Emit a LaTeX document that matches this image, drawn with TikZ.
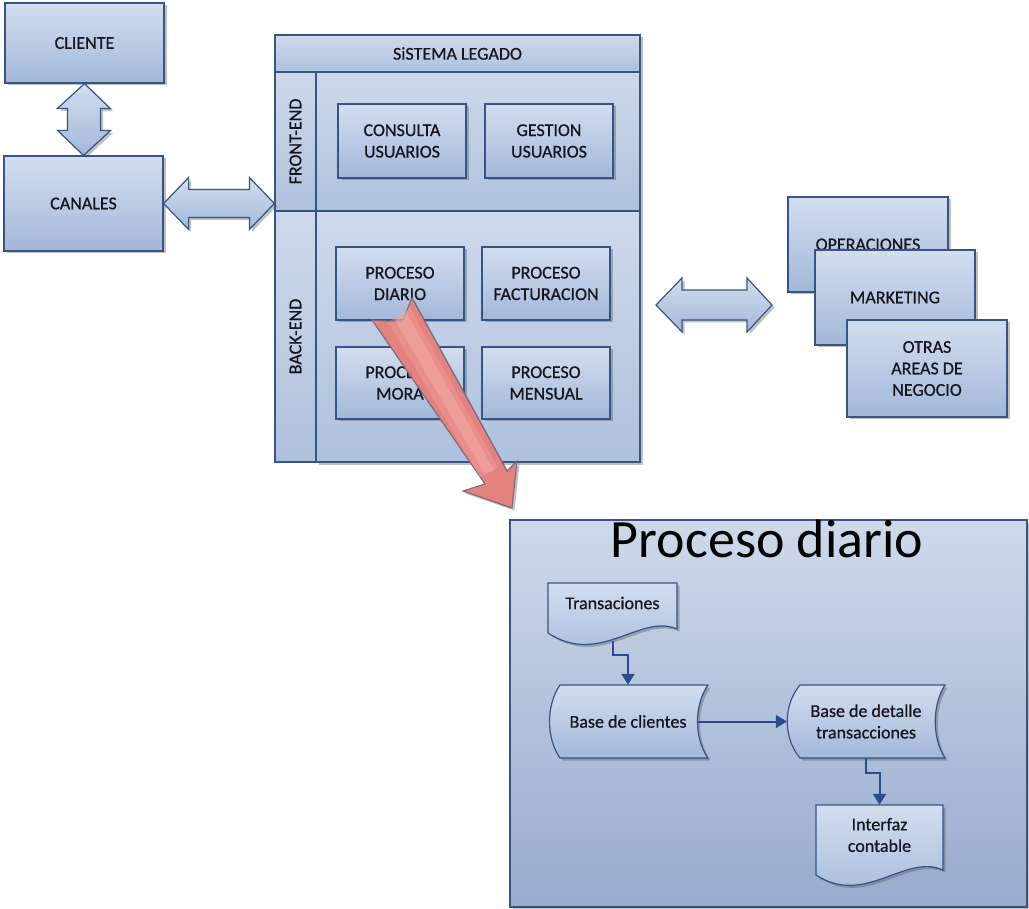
\documentclass[tikz,border=0pt]{standalone}
\usepackage{fontspec}
\setmainfont{Carlito}
\newfontfamily\lblfont{Carlito}[FakeBold=0.7]
\usetikzlibrary{arrows.meta,calc,shadows}

\definecolor{boxtop}{RGB}{210,222,239}
\definecolor{boxbot}{RGB}{162,184,217}
\definecolor{boxline}{RGB}{55,85,132}
\definecolor{paneltop}{RGB}{206,218,235}
\definecolor{panelbot}{RGB}{174,193,221}
\definecolor{bigtop}{RGB}{206,217,234}
\definecolor{bigbot}{RGB}{150,171,206}
\definecolor{flowline}{RGB}{38,78,140}
\definecolor{redfill}{RGB}{228,130,126}
\definecolor{redlight}{RGB}{243,170,165}
\definecolor{redline}{RGB}{120,105,128}
\definecolor{ink}{RGB}{22,22,30}

\begin{document}
\begin{tikzpicture}[x=1pt,y=-1pt,
  lbl/.style={font=\lblfont\fontsize{18}{21.5}\selectfont, text=ink, align=center},
  shadowed/.style={drop shadow={shadow xshift=2.5pt,shadow yshift=-2.5pt,opacity=.35,fill=black!70}},
  box/.style={lbl, draw=boxline, line width=1.2pt, top color=boxtop, bottom color=boxbot, shadowed, inner sep=0pt},
  panel/.style={draw=boxline, line width=1.2pt, top color=paneltop, bottom color=panelbot, inner sep=0pt},
  blockarrow/.style={draw=boxline, line width=1.2pt, top color=boxtop, bottom color=boxbot, shadowed, line join=miter},
  flowshape/.style={draw=boxline, line width=1.2pt, top color=boxtop, bottom color=boxbot, shadowed},
  flow/.style={draw=flowline, line width=2pt, -{Triangle[width=13pt,length=11pt]}},
  txt/.style={lbl, inner sep=0pt},
]
% canvas
\fill[white] (0,0) rectangle (1029,909);

% ---------- left column ----------
\node[box, minimum width=159pt, minimum height=80pt] (cliente) at (84.5,43) {CLIENTE};
\node[box, minimum width=159pt, minimum height=95pt] (canales) at (83.5,203.5) {CANALES};

% ---------- legacy system ----------
\node[panel, shadowed, minimum width=365pt, minimum height=37pt, lbl] (titulo) at (457.5,53.5) {SiSTEMA LEGADO};
\node[panel, shadowed, minimum width=324pt, minimum height=139pt] (fpanel) at (478,141.5) {};
\node[panel, shadowed, minimum width=324pt, minimum height=251pt] (bpanel) at (478,336.5) {};
\node[panel, minimum width=41pt, minimum height=139pt] (fside) at (295.5,141.5) {};
\node[panel, minimum width=41pt, minimum height=251pt] (bside) at (295.5,336.5) {};
\node[txt, rotate=90] at (fside.center) {FRONT-END};
\node[txt, rotate=90] at (bside.center) {BACK-END};

\node[box, minimum width=128pt, minimum height=74pt] (consulta) at (402,141) {CONSULTA\\USUARIOS};
\node[box, minimum width=128pt, minimum height=74pt] (gestion) at (549,141) {GESTION\\USUARIOS};
\node[box, minimum width=128pt, minimum height=73pt] (diario) at (400,283.5) {PROCESO\\DIARIO};
\node[box, minimum width=128pt, minimum height=73pt] (factura) at (546,283.5) {PROCESO\\FACTURACION};
\node[box, minimum width=128pt, minimum height=72pt] (mora) at (400,383) {PROCESO\\MORA};
\node[box, minimum width=128pt, minimum height=72pt] (mensual) at (546,383) {PROCESO\\MENSUAL};

% ---------- business areas ----------
\node[box, minimum width=160pt, minimum height=95pt] (operaciones) at (868,244.5) {OPERACIONES};
\node[box, minimum width=160pt, minimum height=95pt] (marketing) at (895,297.5) {MARKETING};
\node[box, minimum width=160pt, minimum height=97pt] (otras) at (927,368.5) {OTRAS\\AREAS DE\\NEGOCIO};

% ---------- double block arrows ----------
% CLIENTE <-> CANALES
\draw[blockarrow] (cliente.south) -- ++(26,25) -- ++(-10,0) -- ++(0,22)
  -- ++(10,0) -- (canales.north) -- ++(-26,-25) -- ++(10,0) -- ++(0,-22)
  -- ++(-10,0) -- cycle;
% CANALES <-> legacy system
\coordinate (sysin) at (canales.east -| fside.west);
\draw[blockarrow] (canales.east) -- ++(25,-26) -- ++(0,12) -- ($(sysin)+(-25,-14)$)
  -- ++(0,-12) -- (sysin) -- ++(-25,26) -- ++(0,-12) -- ($(canales.east)+(25,14)$)
  -- ++(0,12) -- cycle;
% legacy system <-> business areas
\coordinate (ra1) at (656,305);
\coordinate (ra2) at (772,305);
\draw[blockarrow] (ra1) -- ++(26,-27) -- ++(0,12) -- ($(ra2)+(-25,-15)$)
  -- ++(0,-12) -- (ra2) -- ++(-25,27) -- ++(0,-12) -- ($(ra1)+(26,15)$)
  -- ++(0,12) -- cycle;

% ---------- detail of the daily process ----------
\node[draw=boxline, line width=1.2pt, top color=bigtop, bottom color=bigbot, shadowed,
      minimum width=517pt, minimum height=387pt, inner sep=0pt] (detalle) at (768.5,713.5) {};
\node[font=\fontsize{54}{62}\selectfont, text=black, anchor=base, inner sep=0pt] (titdiario) at (767,557) {Proceso diario};

% document: Transaciones
\draw[flowshape] (548,583) -- (677,583) -- (677,629)
  .. controls (640,613) and (600,667) .. (548,633) -- cycle;
\node[txt, minimum width=129pt, minimum height=40pt] (trans) at (612.5,603) {Transaciones};
% stored data: Base de clientes
\draw[flowshape] (560,685) -- (708,685) .. controls (694,705) and (694,738) .. (708,758)
  -- (560,758) .. controls (546,738) and (546,705) .. cycle;
\node[txt, minimum width=160pt, minimum height=73pt] (bclientes) at (628,721.5) {Base de clientes};
% stored data: Base de detalle transacciones
\draw[flowshape] (800,685) -- (945,685) .. controls (932,705) and (932,738) .. (945,758)
  -- (800,758) .. controls (783,738) and (783,705) .. cycle;
\node[txt, minimum width=158pt, minimum height=73pt] (bdetalle) at (866,721.5) {Base de detalle\\transacciones};
% document: Interfaz contable
\draw[flowshape] (816,805) -- (943,805) -- (943,870)
  .. controls (905,853) and (865,907) .. (816,875) -- cycle;
\node[txt, minimum width=127pt, minimum height=60pt] (interfaz) at (879.5,835) {Interfaz\\contable};

% flow connectors
\draw[flow] ($(trans.center)+(0,38)$) -- ++(0,14) -| (bclientes.north);
\draw[flow] ($(bclientes.east)+(-10,0)$) -- (bdetalle.west);
\draw[flow] (bdetalle.south) -- ++(0,15) -| (interfaz.north);

% ---------- zoom arrow from PROCESO DIARIO to its detail ----------
\coordinate (zt) at (512,508);
\draw[draw=redline, line width=1.1pt, fill=redfill, shadowed, line join=miter]
  (372,320) -- (402,322) -- (412,298) -- (507,471) -- (517,461) -- (zt)
  -- (463,491) -- (485,484) -- cycle;
% soft highlight along the shaft
\fill[redlight, opacity=.55] (395,320) -- (406,312) -- (494,470) -- (485,474) -- cycle;
\fill[redlight, opacity=.35] (388,322) -- (410,308) -- (498,468) -- (480,477) -- cycle;
\end{tikzpicture}
\end{document}
